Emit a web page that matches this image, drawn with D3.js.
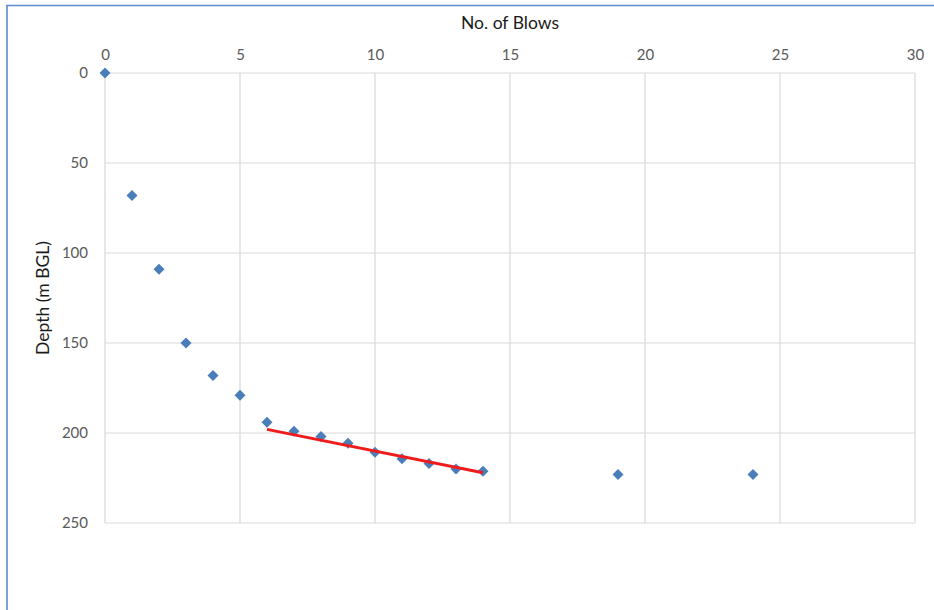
<!DOCTYPE html>
<html>
<head>
<meta charset="utf-8">
<script src="https://cdn.jsdelivr.net/npm/d3@7"></script>
<style>
  html, body { margin: 0; padding: 0; background: #fff; }
  svg { display: block; }
  text { font-family: Lato, "Open Sans", "Liberation Sans", sans-serif; }
</style>
</head>
<body>
<svg id="chart" width="934" height="610"></svg>
<script>
// Dynamic probe test: blows counted per depth
const blows = [0, 1, 2, 3, 4, 5, 6, 7, 8, 9, 10, 11, 12, 13, 14, 19, 24];
const depths = [0, 68, 109, 150, 168, 179, 194, 199, 202, 205.7, 210.7, 214.3, 217, 220, 221.3, 223, 223];

// Fitted line through the lower run of readings
const trendBlows = [6, 14];
const trendDepths = [198, 222.1];

const xTicks = [0, 5, 10, 15, 20, 25, 30];
const yTicks = [0, 50, 100, 150, 200, 250];

const xTitle = "No. of Blows";
const yTitle = "Depth (m BGL)";

const svg = d3.select("#chart");

// Chart frame
svg.append("path")
  .attr("d", "M7,620 L7,5.5 L940,5.5")
  .attr("fill", "none")
  .attr("stroke", "#5a8ccf")
  .attr("stroke-width", 1.6);

const x = d3.scaleLinear().domain([0, 30]).range([105, 915]);
const y = d3.scaleLinear().domain([0, 250]).range([73, 523]);

// Gridlines
const grid = svg.append("g");
grid.selectAll("line.v").data(xTicks).join("line")
  .attr("x1", d => x(d)).attr("x2", d => x(d))
  .attr("y1", y(0)).attr("y2", y(250))
  .attr("stroke", "#d9d9d9").attr("stroke-width", 1.2);
grid.selectAll("line.h").data(yTicks).join("line")
  .attr("x1", x(0)).attr("x2", x(30))
  .attr("y1", d => y(d)).attr("y2", d => y(d))
  .attr("stroke", "#d9d9d9").attr("stroke-width", 1.2);

// Top axis labels
const xAxis = d3.axisTop(x).tickValues(xTicks).tickSize(0).tickPadding(13);
const gx = svg.append("g").attr("transform", `translate(0,${y(0)})`).call(xAxis);
gx.select(".domain").remove();
gx.selectAll("text").attr("fill", "#595959").attr("font-size", 15);

// Left axis labels
const yAxis = d3.axisLeft(y).tickValues(yTicks).tickSize(0).tickPadding(17);
const gy = svg.append("g").attr("transform", `translate(${x(0)},0)`).call(yAxis);
gy.select(".domain").remove();
gy.selectAll("text").attr("fill", "#595959").attr("font-size", 15);

// Axis titles
svg.append("text")
  .attr("x", 510).attr("y", 29)
  .attr("text-anchor", "middle")
  .attr("font-size", 17.5)
  .attr("fill", "#1a1a1a")
  .text(xTitle);

svg.append("text")
  .attr("transform", `translate(49,${y(125)}) rotate(-90)`)
  .attr("text-anchor", "middle")
  .attr("font-size", 17.5)
  .attr("fill", "#1a1a1a")
  .text(yTitle);

// Readings
const pts = blows.map((b, i) => ({ b, d: depths[i] }));
svg.append("g").selectAll("path").data(pts).join("path")
  .attr("transform", p => `translate(${x(p.b)},${y(p.d)})`)
  .attr("d", "M0,-5.5 L5.5,0 L0,5.5 L-5.5,0 Z")
  .attr("fill", "#4a7ebb");

// Trend line
const line = d3.line().x(p => x(p[0])).y(p => y(p[1]));
svg.append("path")
  .datum(trendBlows.map((b, i) => [b, trendDepths[i]]))
  .attr("d", line)
  .attr("fill", "none")
  .attr("stroke", "#ee1c1c")
  .attr("stroke-width", 3);
</script>
</body>
</html>
